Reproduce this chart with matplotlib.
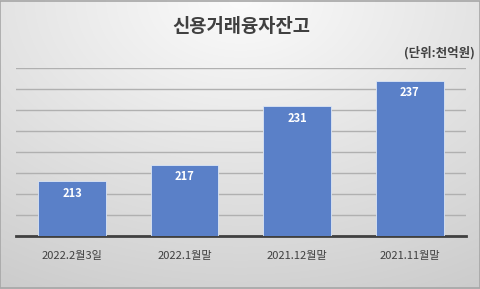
import numpy as np
import matplotlib
matplotlib.use("Agg")
import matplotlib.pyplot as plt

plt.rcParams['font.family'] = ['Noto Sans CJK KR', 'DejaVu Sans']

categories = ['2022.2월3일', '2022.1월말', '2021.12월말', '2021.11월말']
values = [213, 217, 231, 237]
title = '신용거래융자잔고'
unit = '(단위:천억원)'

fig = plt.figure(figsize=(4.81, 2.89), dpi=100)

# background radial gradient
bg = fig.add_axes([0, 0, 1, 1], zorder=-10)
yy, xx = np.mgrid[0:289, 0:481]
cx, cy = 240, 0
d = np.sqrt(((xx - cx) / 481.0) ** 2 + ((yy - cy) / 330.0) ** 2)
d = np.clip(d / 1.0, 0, 1)
top, bot = 0.985, 0.80
g = top - (top - bot) * d
img = np.dstack([g, g, g])
bg.imshow(img, aspect='auto', extent=[0, 1, 0, 1], origin='upper')
bg.set_axis_off()
bg.add_patch(plt.Rectangle((0.001, 0.002), 0.997, 0.995, transform=bg.transAxes,
                           fill=False, edgecolor='#a6a6a6', linewidth=1.2))

ax = fig.add_axes([16/481, 53/289, 450/481, 168/289])
ax.patch.set_alpha(0)
x = np.arange(len(categories))
bars = ax.bar(x, values, width=0.6, color='#5a80c8', edgecolor='#dce6f5', linewidth=0.6, zorder=3)
ax.set_ylim(200, 240)
ax.set_xlim(-0.5, len(categories) - 0.5)
ax.set_yticks(np.arange(200, 241, 5))
ax.yaxis.grid(True, color='#b0b0b0', linewidth=1.0, zorder=0)
ax.set_axisbelow(True)
ax.tick_params(axis='y', left=False, labelleft=False)
ax.tick_params(axis='x', bottom=False, pad=7)
ax.set_xticks(x)
ax.set_xticklabels(categories, fontsize=8, color='#404040')
for s in ['top', 'right', 'left']:
    ax.spines[s].set_visible(False)
ax.spines['bottom'].set_color('#404040')
ax.spines['bottom'].set_linewidth(2)

for xi, v in zip(x, values):
    ax.text(xi, v - 1.4, str(v), ha='center', va='top', color='white',
            fontsize=8, fontweight='bold', zorder=4)

fig.text(241/481, 1 - 26/289, title, ha='center', va='center', fontsize=13.5,
         fontweight='bold', color='#404040')
fig.text(475/481, 1 - 53/289, unit, ha='right', va='center', fontsize=9,
         fontweight='bold', color='#404040')

fig.savefig('out.png', dpi=100)
